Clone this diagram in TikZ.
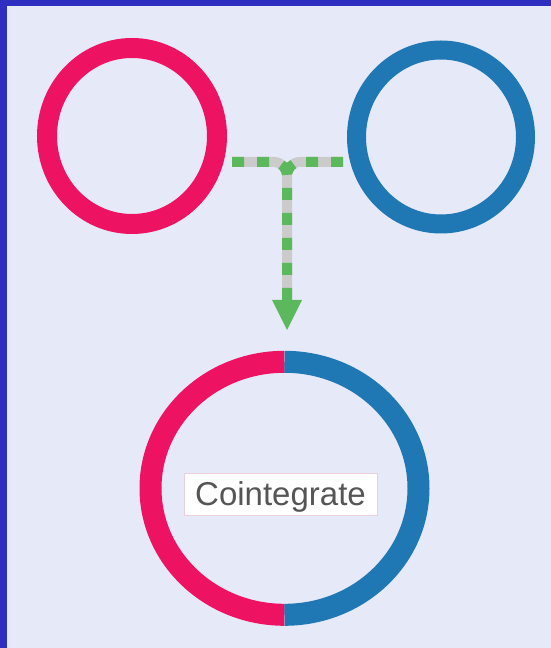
\documentclass[tikz,border=0pt]{standalone}
\usepackage{fontspec}
\setmainfont{Liberation Sans}
\usetikzlibrary{arrows.meta,shapes.geometric}
\definecolor{framec}{HTML}{2E2EC0}
\definecolor{bgc}{HTML}{E6EAF8}
\definecolor{pinkc}{HTML}{EE1262}
\definecolor{bluec}{HTML}{1F78B4}
\definecolor{greenc}{HTML}{5CB85C}
\definecolor{grayc}{HTML}{CBCBCB}
\definecolor{textc}{HTML}{555555}
\definecolor{boxc}{HTML}{EBCFDC}
\tikzset{
  ring/.style={ellipse, inner sep=0pt, line width=#1},
  linkbg/.style={grayc, line width=10pt},
  linkfg/.style={greenc, line width=10pt, dash pattern=on 12pt off 13pt},
  label box/.style={rectangle, fill=white, draw=boxc, line width=0.8pt,
    minimum width=193pt, minimum height=42pt, inner sep=0pt,
    text height=23.6pt, text depth=0pt, text=textc, font=\fontsize{33}{36}\selectfont}
}
\begin{document}
\begin{tikzpicture}[x=1pt,y=1pt]
  % background and frame
  \fill[framec] (0,0) rectangle (551,648);
  \fill[bgc] (7,0) rectangle (551,642);
  \useasboundingbox (0,0) rectangle (551,648);

  % source rings
  \node[ring=20pt, draw=pinkc, minimum width=170pt, minimum height=176pt] (a) at (132,512) {};
  \node[ring=19pt, draw=bluec, minimum width=169pt, minimum height=174pt] (b) at (441,511) {};

  % cointegrate ring
  \node[ellipse, inner sep=0pt, minimum width=268pt, minimum height=253pt] (c) at (284.5,159.5) {};
  \draw[pinkc, line width=22pt] (c.north) arc[start angle=90, end angle=270, x radius=134, y radius=126.5];
  \draw[bluec, line width=22pt] (c.north) arc[start angle=90, end angle=-90, x radius=134, y radius=126.5];
  \node[label box] (t) at (280.5,154) {Cointegrate};

  % connector
  \coordinate (s1) at (232,486);
  \coordinate (s2) at (343,486);
  \coordinate (j) at (287,472);
  \coordinate (tip) at (287,318);
  \coordinate (base) at (287,348);
  \draw[linkbg] (s1) -- (274,486) to[out=0,in=90] (j) -- (base);
  \draw[linkbg] (s2) -- (300,486) to[out=180,in=90] (j);
  \draw[linkfg] (s2) -- (300,486) to[out=180,in=90] (j);
  \draw[linkfg] (s1) -- (274,486) to[out=0,in=90] (j) -- (base);
  \fill[greenc] (272,348) -- (302,348) -- (tip) -- cycle;
\end{tikzpicture}
\end{document}
